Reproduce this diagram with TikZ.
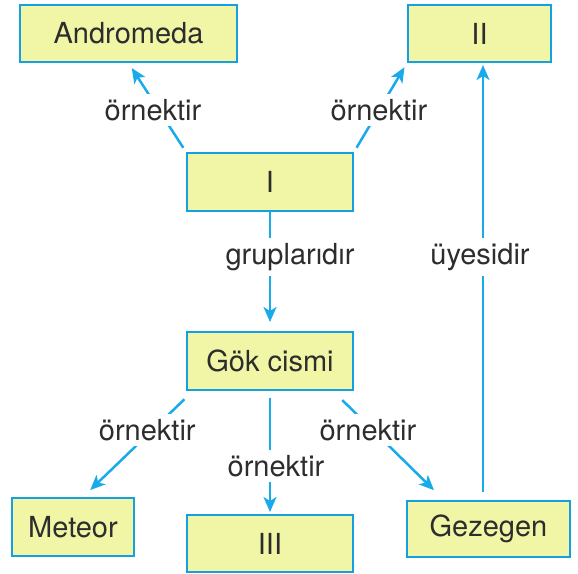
\documentclass[tikz,border=0pt]{standalone}
\usepackage{fontspec}
\setmainfont{TeX Gyre Heros}
\usepackage{tikz}
\usetikzlibrary{arrows.meta}
\definecolor{BoxFill}{RGB}{240,246,166}
\definecolor{BoxLine}{RGB}{20,160,225}
\definecolor{ArrLine}{RGB}{25,170,235}
\definecolor{TxtCol} {RGB}{45,45,45}
\tikzset{
  nd_box/.style={
    rectangle, draw=BoxLine, fill=BoxFill, line width=2pt,
    inner sep=0pt, text=TxtCol,
    font=\fontsize{29}{34}\selectfont},
  arr/.style={-{Stealth[length=15pt,width=13pt,inset=4pt]},
    draw=ArrLine, line width=2.5pt},
  lbl/.style={fill=white, inner sep=5pt, text=TxtCol,
    font=\fontsize{29}{34}\selectfont},
}

\begin{document}
\begin{tikzpicture}[x=1pt,y=-1pt]

\useasboundingbox (0,0) rectangle (578,573);

%% top row
\node[nd_box,minimum width=217pt,minimum height=57pt] at (128.5,33.5) (And){Andromeda};
\node[nd_box,minimum width=143pt,minimum height=57pt] at (479.5,33.5) (II){II};

%% middle
\node[nd_box,minimum width=166pt,minimum height=58pt] at (270,182) (I){I};
\node[nd_box,minimum width=166pt,minimum height=58pt] at (270,361) (Gok){Gök cismi};

%% bottom row
\node[nd_box,minimum width=122pt,minimum height=58pt] at (73,527)    (Met){Meteor};
\node[nd_box,minimum width=166pt,minimum height=57pt] at (270,543.5) (III){III};
\node[nd_box,minimum width=163pt,minimum height=56pt] at (488.5,529) (Gez){Gezegen};

%% arrows
\draw[arr,shorten <=5pt,shorten >=6pt] (I.north west) -- (And.south)
  node[lbl,pos=0.47,xshift=-6pt]{örnektir};
\draw[arr,shorten <=5pt,shorten >=5pt] (I.north east) -- (II.south west)
  node[lbl,pos=0.47]{örnektir};
\draw[arr,shorten >=9pt] (I.south) -- (Gok.north)
  node[lbl,pos=0.38,xshift=20pt]{gruplarıdır};

\draw[arr,shorten <=12pt,shorten >=10pt]
  ([xshift=7pt]Gok.south west) -- ([xshift=10pt]Met.north)
  node[lbl,pos=0.37,xshift=-5pt]{örnektir};
\draw[arr,shorten <=7pt,shorten >=2pt] (Gok.south) -- (III.north)
  node[lbl,pos=0.61,xshift=6pt]{örnektir};
\draw[arr,shorten <=13pt,shorten >=14pt]
  ([xshift=-21pt]Gok.south east) -- ([xshift=38pt]Gez.north west)
  node[lbl,pos=0.36,xshift=-5pt]{örnektir};

\draw[arr,shorten <=8pt,shorten >=2pt]
  ([xshift=-5.5pt]Gez.north) -- ([xshift=3.5pt]II.south)
  node[lbl,pos=0.556,xshift=-3pt]{üyesidir};

\end{tikzpicture}
\end{document}
